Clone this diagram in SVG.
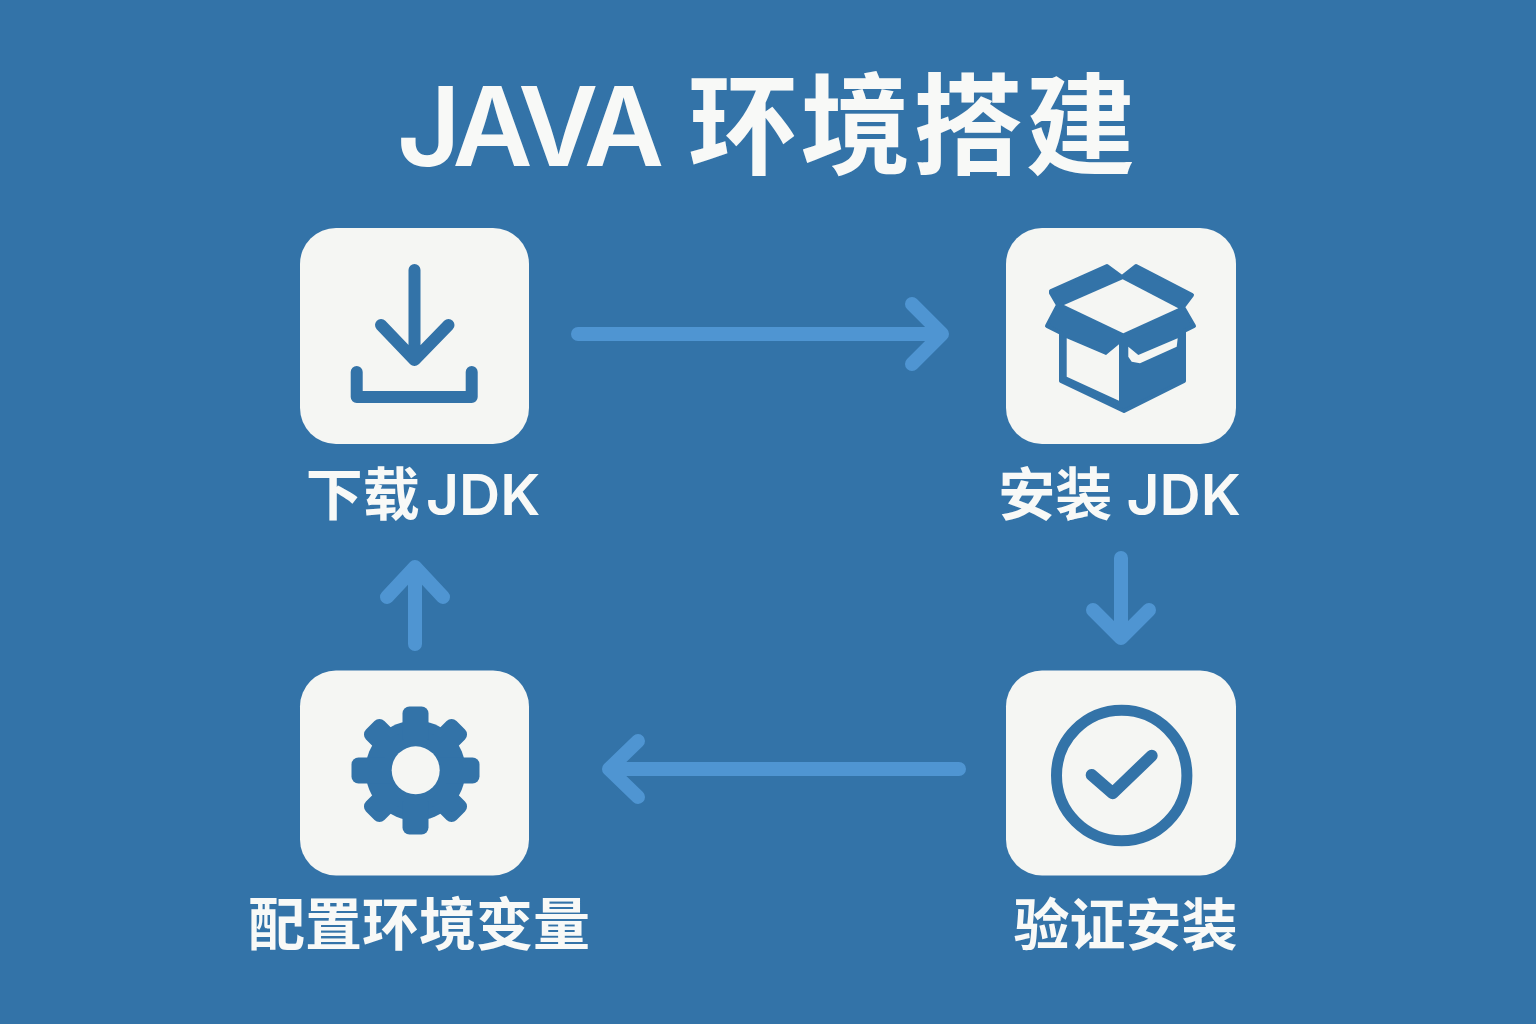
<svg xmlns="http://www.w3.org/2000/svg" width="1536" height="1024" viewBox="0 0 1536 1024">
<defs><style>
text{font-family:"Inter","Noto Sans CJK SC","Noto Sans",sans-serif;fill:#f8f9f7;font-weight:600;text-anchor:middle}
.card{fill:#f5f6f3}
.ic{fill:none;stroke:#3373a8;stroke-linecap:round;stroke-linejoin:round}
.fi{fill:#3373a8}
.wh{fill:#f5f6f3}
.cn{fill:none;stroke:#4f95d2;stroke-width:14;stroke-linecap:round;stroke-linejoin:round}
.lb{font-size:57px}
</style></defs>
<rect width="1536" height="1024" fill="#3373a8"/>
<text id="title" y="166" font-size="110" style="text-anchor:start"><tspan x="397" letter-spacing="-6">JAVA</tspan> <tspan x="688" letter-spacing="2.500">环境搭建</tspan></text>
<g id="connectors">
<path class="cn" d="M578 334H942M912 304L942 334L912 364"/>
<path class="cn" d="M1121 558V638M1093 610L1121 638L1149 610"/>
<path class="cn" d="M959 769H609M638 741L609 769L638 797"/>
<path class="cn" d="M415 644V567M387 597L415 567L443 597"/>
</g>
<g id="node-download"><rect class="card" x="300" y="228" width="229" height="216" rx="36"/>
<path class="ic" stroke-width="12" d="M414.500 270V358M381 325L414.500 360L448.500 325M356.700 372V397H471.700V372"/>
<text class="lb" x="423" y="515" word-spacing="-8">下载 JDK</text></g>
<g id="node-install"><rect class="card" x="1006" y="228" width="230" height="216" rx="36"/>
<path class="fi" stroke="#3373a8" stroke-width="4" stroke-linejoin="round" d="M1051 291L1107 266L1122 277L1136 266L1192 295L1183 307L1194 326L1184 331V381L1124 411L1061 381V333L1047 326L1058 305L1051 293Z"/>
<path class="wh" d="M1064 305L1122.700 279.300L1178.300 308.300L1123.300 333.300Z"/>
<path class="wh" d="M1066.700 338.300L1106 355L1119 344.300V400.700L1066.700 376.700Z"/>
<path class="wh" d="M1128.300 346.700L1138.300 355L1177.700 338.300L1176.700 346.700L1140 363.300L1131.700 361.700L1128.300 356.700Z"/>
<text class="lb" x="1119.500" y="515">安装 JDK</text></g>
<g id="node-verify"><rect class="card" x="1006" y="670.500" width="230" height="205" rx="36"/>
<circle class="ic" stroke-width="11" cx="1121.700" cy="775.500" r="65.200"/>
<path class="ic" stroke-width="12" d="M1091.700 775L1112.700 793.300L1151.700 755.700"/>
<text class="lb" x="1125.500" y="945" style="font-size:56px">验证安装</text></g>
<g id="node-config"><rect class="card" x="300" y="670.500" width="229" height="205" rx="36"/>
<circle class="fi" cx="415.500" cy="770.500" r="50"/>
<g class="fi">
<rect x="402.500" y="706.500" width="26" height="128" rx="7"/>
<rect x="402.500" y="706.500" width="26" height="128" rx="7" transform="rotate(45 415.500 770.500)"/>
<rect x="402.500" y="706.500" width="26" height="128" rx="7" transform="rotate(90 415.500 770.500)"/>
<rect x="402.500" y="706.500" width="26" height="128" rx="7" transform="rotate(135 415.500 770.500)"/>
</g>
<circle class="wh" cx="415.700" cy="770.300" r="24"/>
<text class="lb" x="419" y="945">配置环境变量</text></g>
</svg>
